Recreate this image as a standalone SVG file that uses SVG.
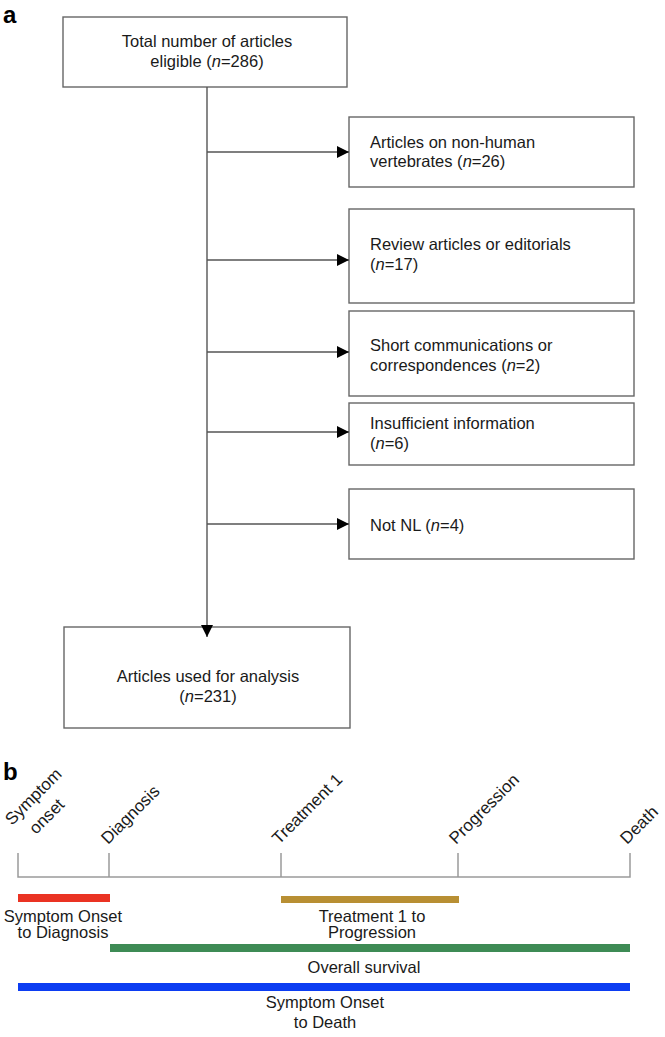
<svg xmlns="http://www.w3.org/2000/svg" width="665" height="1037" viewBox="0 0 665 1037">
<style>
  text { font-family: "Liberation Sans", Arial, sans-serif; font-size: 16.5px; fill: #1a1a1a; }
  .rot { font-size: 17px; }
  .box { fill: #ffffff; stroke: #666666; stroke-width: 1.4; }
  .conn { stroke: #555555; stroke-width: 1.4; fill: none; }
  .panel { font-size: 24px; font-weight: bold; fill: #000; }
  .mid { text-anchor: middle; }
  .tl { stroke: #9a9a9a; stroke-width: 1.5; fill: none; }
  .it { font-style: italic; }
</style>
<defs>
  <marker id="arr" markerWidth="12" markerHeight="12" refX="12" refY="6" orient="auto" markerUnits="userSpaceOnUse">
    <path d="M0,0 L12,6 L0,12 Z" fill="#000"/>
  </marker>
</defs>
<rect width="665" height="1037" fill="#ffffff"/>

<text class="panel" x="3" y="23">a</text>
<text class="panel" x="3" y="780">b</text>

<g id="n-total">
  <rect class="box" x="63" y="17" width="284" height="70"/>
  <text class="mid" x="207" y="47">Total number of articles</text>
  <text class="mid" x="207" y="67">eligible (<tspan class="it">n</tspan>=286)</text>
</g>
<g id="n-nonhuman">
  <rect class="box" x="349" y="117" width="285" height="70"/>
  <text x="370" y="148">Articles on non-human</text>
  <text x="370" y="167">vertebrates (<tspan class="it">n</tspan>=26)</text>
</g>
<g id="n-review">
  <rect class="box" x="349" y="209" width="285" height="94"/>
  <text x="370" y="250">Review articles or editorials</text>
  <text x="370" y="270">(<tspan class="it">n</tspan>=17)</text>
</g>
<g id="n-short">
  <rect class="box" x="349" y="311" width="285" height="85"/>
  <text x="370" y="351">Short communications or</text>
  <text x="370" y="371">correspondences (<tspan class="it">n</tspan>=2)</text>
</g>
<g id="n-insufficient">
  <rect class="box" x="349" y="403" width="285" height="62"/>
  <text x="370" y="429">Insufficient information</text>
  <text x="370" y="449">(<tspan class="it">n</tspan>=6)</text>
</g>
<g id="n-notnl">
  <rect class="box" x="349" y="489" width="285" height="70"/>
  <text x="370" y="531">Not NL (<tspan class="it">n</tspan>=4)</text>
</g>
<g id="n-used">
  <rect class="box" x="64" y="627" width="286" height="101"/>
  <text class="mid" x="208" y="682">Articles used for analysis</text>
  <text class="mid" x="208" y="702">(<tspan class="it">n</tspan>=231)</text>
</g>

<g id="connectors">
  <line class="conn" x1="207" y1="87" x2="207" y2="637" marker-end="url(#arr)"/>
  <line class="conn" x1="207" y1="152" x2="349" y2="152" marker-end="url(#arr)"/>
  <line class="conn" x1="207" y1="260" x2="349" y2="260" marker-end="url(#arr)"/>
  <line class="conn" x1="207" y1="352" x2="349" y2="352" marker-end="url(#arr)"/>
  <line class="conn" x1="207" y1="432" x2="349" y2="432" marker-end="url(#arr)"/>
  <line class="conn" x1="207" y1="524" x2="349" y2="524" marker-end="url(#arr)"/>
</g>

<g id="timeline">
  <path class="tl" d="M18,853 V877 H630 V853 M109,853 V877 M281,853 V877 M458,853 V877"/>
  <text class="rot" transform="translate(12,826) rotate(-45)">Symptom</text>
  <text class="rot" transform="translate(36,835) rotate(-45)">onset</text>
  <text class="rot" transform="translate(108,845) rotate(-45)">Diagnosis</text>
  <text class="rot" transform="translate(279,845) rotate(-45)">Treatment 1</text>
  <text class="rot" transform="translate(456,845) rotate(-45)">Progression</text>
  <text class="rot" transform="translate(627,845) rotate(-45)">Death</text>
</g>

<g id="bar-onset-diag">
  <rect x="18" y="894" width="92" height="8" fill="#ea3323"/>
  <text class="mid" x="63" y="922">Symptom Onset</text>
  <text class="mid" x="63" y="938">to Diagnosis</text>
</g>
<g id="bar-treat-prog">
  <rect x="281" y="896" width="178" height="7" fill="#b88f33"/>
  <text class="mid" x="372" y="922">Treatment 1 to</text>
  <text class="mid" x="372" y="938">Progression</text>
</g>
<g id="bar-os">
  <rect x="110" y="944" width="520" height="8" fill="#3e8b55"/>
  <text class="mid" x="364" y="973">Overall survival</text>
</g>
<g id="bar-onset-death">
  <rect x="18" y="983" width="612" height="8" fill="#0c3df2"/>
  <text class="mid" x="325" y="1008">Symptom Onset</text>
  <text class="mid" x="325" y="1028">to Death</text>
</g>
</svg>
